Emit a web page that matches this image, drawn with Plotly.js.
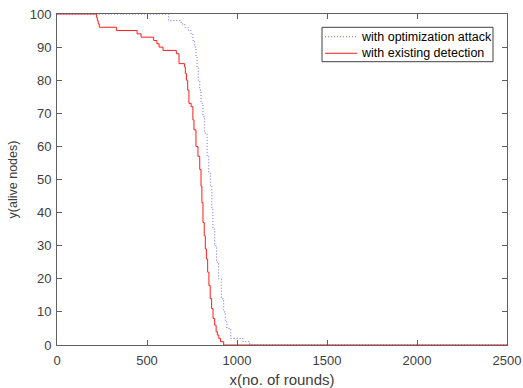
<!DOCTYPE html>
<html>
<head>
<meta charset="utf-8">
<script src="https://cdn.plot.ly/plotly-3.0.1.min.js"></script>
<style>html,body{margin:0;padding:0;background:#fff;}#chart{width:523px;height:388px;}</style>
</head>
<body>
<div id="chart"></div>
<script>
// Series: optimization attack (blue dotted)
const attackRounds = [0, 620, 690, 710, 730, 745, 755, 765, 772, 778, 785, 793, 800, 811, 820, 834, 843, 852, 860, 866, 876, 886, 898, 913, 926, 935, 944, 965, 1033, 1070, 2500];
const attackAlive  = [100, 98, 97, 96, 95, 94, 92, 90, 87, 84, 80, 77, 73, 69, 64, 57, 52, 48, 41, 35, 30, 25, 20, 14, 10, 7, 5, 2, 1, 0, 0];
// Series: existing detection (red solid)
const detectRounds = [0, 219, 224, 229, 235, 330, 445, 467, 537, 555, 567, 589, 663, 678, 709, 713, 719, 726, 733, 745, 755, 761, 772, 783, 793, 800, 805, 811, 818, 824, 830, 837, 844, 851, 859, 867, 876, 884, 891, 899, 908, 926, 2500];
const detectAlive  = [100, 99, 98, 97, 96, 95, 94, 93, 92, 91, 90, 89, 88, 85, 84, 82, 80, 77, 73, 72, 68, 65, 60, 57, 53, 48, 43, 37, 33, 29, 26, 22, 18, 14, 11, 8, 6, 4, 3, 2, 1, 0, 0];
const seriesNames = ['with optimization attack', 'with existing detection'];
const seriesColors = ['#6a6aff', '#ff1a1a'];
const xTicks = [0, 500, 1000, 1500, 2000, 2500];
const yTicks = [0, 10, 20, 30, 40, 50, 60, 70, 80, 90, 100];

const fam = 'Liberation Sans, Arial, sans-serif';
const tickFont = {family: fam, size: 13, color: '#404040'};
const traces = [
  {x: attackRounds, y: attackAlive, type: 'scatter', mode: 'lines', name: seriesNames[0],
   line: {color: seriesColors[0], width: 1, dash: '1px,2px', shape: 'hv'}},
  {x: detectRounds, y: detectAlive, type: 'scatter', mode: 'lines', name: seriesNames[1],
   line: {color: seriesColors[1], width: 1, shape: 'hv'}}
];
const axisCommon = {
  showgrid: false, zeroline: false, showline: true, linecolor: '#606060', linewidth: 1,
  mirror: 'ticks', ticks: 'inside', ticklen: 5, tickcolor: '#606060', tickfont: tickFont
};
// Manual legend box (paper coordinates)
const lg = {x0: 0.5889, x1: 0.9689, y0: 0.8559, y1: 0.9598, lx0: 0.5956, lx1: 0.6667, tx: 0.6700, rows: [0.9314, 0.8813]};
const shapes = [
  {type: 'rect', xref: 'paper', yref: 'paper', x0: lg.x0, x1: lg.x1, y0: lg.y0, y1: lg.y1,
   line: {color: '#404040', width: 1}, fillcolor: '#ffffff', layer: 'above'},
  {type: 'line', xref: 'paper', yref: 'paper', x0: lg.lx0, x1: lg.lx1, y0: lg.rows[0], y1: lg.rows[0],
   line: {color: seriesColors[0], width: 1, dash: '1px,2px'}, layer: 'above'},
  {type: 'line', xref: 'paper', yref: 'paper', x0: lg.lx0, x1: lg.lx1, y0: lg.rows[1], y1: lg.rows[1],
   line: {color: seriesColors[1], width: 1}, layer: 'above'}
];
const annotations = seriesNames.map((n, i) => ({
  xref: 'paper', yref: 'paper', x: lg.tx, y: lg.rows[i], xanchor: 'left', yanchor: 'middle',
  text: n, showarrow: false, font: {family: fam, size: 12.5, color: '#000'}
}));
const layout = {
  width: 523, height: 388,
  margin: {l: 57, r: 16, t: 14, b: 43},
  paper_bgcolor: '#fff', plot_bgcolor: '#fff',
  font: tickFont,
  showlegend: false,
  shapes: shapes,
  annotations: annotations,
  xaxis: Object.assign({}, axisCommon, {range: [0, 2500], tickvals: xTicks, ticktext: xTicks.map(String),
    ticklabelstandoff: 3,
    title: {text: 'x(no. of rounds)', font: {family: fam, size: 15, color: '#404040'}, standoff: 8}}),
  yaxis: Object.assign({}, axisCommon, {range: [0, 100], tickvals: yTicks, ticktext: yTicks.map(String),
    ticklabelstandoff: 2,
    title: {text: 'y(alive nodes)', font: {family: fam, size: 12.5, color: '#404040'}, standoff: 9}})
};
Plotly.newPlot('chart', traces, layout, {displayModeBar: false, staticPlot: true});
</script>
</body>
</html>
